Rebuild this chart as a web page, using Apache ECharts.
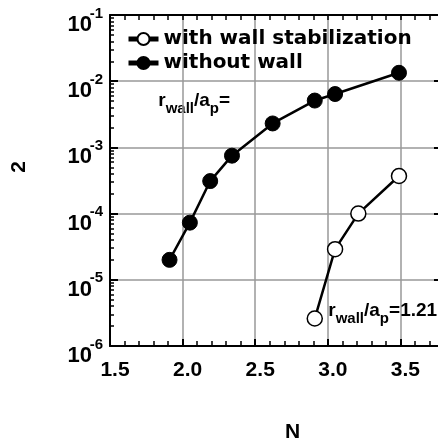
<!DOCTYPE html>
<html><head><meta charset="utf-8">
<script src="https://cdn.jsdelivr.net/npm/echarts@6/dist/echarts.min.js"></script>
<style>html,body{margin:0;padding:0;background:#fff}#c{width:438px;height:446px}</style>
</head><body><div id="c"></div>
<script>
// ---- data ----
const seriesNames = ['with wall stabilization', 'without wall'];
const nWith = [2.91, 3.05, 3.21, 3.49];
const gWith = [2.6e-6, 2.9e-5, 1.0e-4, 3.7e-4];
const nWithout = [1.91, 2.05, 2.19, 2.34, 2.62, 2.91, 3.05, 3.49];
const gWithout = [2.0e-5, 7.3e-5, 3.1e-4, 7.5e-4, 2.3e-3, 5.1e-3, 6.4e-3, 1.34e-2];
const xTickLabels = [1.5, 2.0, 2.5, 3.0, 3.5];
const yDecades = [1e-6, 1e-5, 1e-4, 1e-3, 1e-2, 1e-1];
const yMantissas = [2, 3, 4, 5, 6, 7, 8, 9];
const xName = 'N';
const yName = '2';
const annotLast = '1.21';

// ---- derived tick lists ----
const xMinor = [];
for (let i = 15; i <= 38; i++) xMinor.push(+(i / 10).toFixed(1));
const yMinor = [];
yDecades.slice(0, -1).forEach(d => yMantissas.forEach(m => yMinor.push(+(d * m).toPrecision(3))));

const FONT = '"Liberation Sans", Arial, sans-serif';
const richSub = {
  m: {fontFamily: FONT, fontWeight: 'bold', fontSize: 19, color: '#000', lineHeight: 22, verticalAlign: 'top'},
  s: {fontFamily: FONT, fontWeight: 'bold', fontSize: 15, color: '#000', lineHeight: 15, verticalAlign: 'bottom'},
  h: {lineHeight: 25, fontSize: 1}
};
function ratioText(suffix) {
  return '{h| }{m|r}{s|wall}{m|/a}{s|p}{m|=' + (suffix || '') + '}';
}

const chart = echarts.init(document.getElementById('c'), null, {renderer: 'canvas'});
const lineX = {type: 'value', min: 1.5, max: 3.8, gridIndex: 0};
const logY = {type: 'log', logBase: 10, min: 1e-6, max: 1e-1, gridIndex: 0};

chart.setOption({
  animation: false,
  backgroundColor: '#fff',
  grid: {left: 110, top: 15, width: 334, height: 331, containLabel: false, outerBoundsMode: 'none'},
  legend: {
    data: seriesNames,
    orient: 'vertical',
    left: 126, top: 29, padding: 0,
    itemWidth: 30, itemHeight: 15, itemGap: 4,
    lineStyle: {width: 5},
    textStyle: {fontFamily: '"DejaVu Sans", sans-serif', fontWeight: 'bold', fontSize: 20, color: '#000', lineHeight: 20}
  },
  xAxis: [
    Object.assign({}, lineX, {
      position: 'bottom', interval: 0.5,
      name: xName, nameLocation: 'middle', nameGap: 76,
      nameTextStyle: {fontFamily: FONT, fontWeight: 'bold', fontSize: 21, color: '#000', padding: [0, 0, 0, 31]},
      axisLine: {onZero: false, lineStyle: {color: '#000', width: 2}},
      axisTick: {inside: true, length: 7, lineStyle: {color: '#000', width: 2}},
      axisLabel: {customValues: xTickLabels, margin: 14, padding: [0, 0, 0, 10],
        fontFamily: FONT, fontWeight: 'bold', fontSize: 21, color: '#000',
        formatter: v => v.toFixed(1)},
      splitLine: {show: true, lineStyle: {color: '#999', width: 1.5}}
    }),
    Object.assign({}, lineX, {
      position: 'bottom',
      axisLine: {show: false, onZero: false},
      axisTick: {inside: true, length: 5, customValues: xMinor, lineStyle: {color: '#000', width: 1.5}},
      axisLabel: {show: false}, splitLine: {show: false}
    }),
    Object.assign({}, lineX, {
      position: 'top',
      axisLine: {onZero: false, lineStyle: {color: '#000', width: 2}},
      axisTick: {inside: true, length: 5, customValues: xMinor, lineStyle: {color: '#000', width: 1.5}},
      axisLabel: {show: false}, splitLine: {show: false}
    })
  ],
  yAxis: [
    Object.assign({}, logY, {
      position: 'left', splitNumber: 5,
      name: yName, nameLocation: 'middle', nameRotate: 90, nameGap: 80,
      nameTextStyle: {fontFamily: FONT, fontWeight: 'bold', fontSize: 21, color: '#000', padding: [0, 0, 0, 27]},
      axisLine: {onZero: false, lineStyle: {color: '#000', width: 2}},
      axisTick: {inside: true, length: 8, lineStyle: {color: '#000', width: 2}},
      axisLabel: {
        margin: 7, padding: [19, 0, 0, 0], align: 'right',
        formatter: v => '{s|' + Math.round(Math.log10(v)) + '}\n{b|10}',
        rich: {
          b: {fontFamily: FONT, fontWeight: 'bold', fontSize: 22, color: '#000', lineHeight: 22, align: 'right', padding: [0, 11, 0, 0]},
          s: {fontFamily: FONT, fontWeight: 'bold', fontSize: 15, color: '#000', lineHeight: 1, align: 'right'}
        }
      },
      splitLine: {show: true, lineStyle: {color: '#999', width: 1.5}}
    }),
    Object.assign({}, logY, {
      position: 'left',
      axisLine: {show: false, onZero: false},
      axisTick: {inside: true, length: 4, customValues: yMinor, lineStyle: {color: '#000', width: 1.5}},
      axisLabel: {show: false}, splitLine: {show: false}
    }),
    Object.assign({}, logY, {
      position: 'right',
      axisLine: {onZero: false, lineStyle: {color: '#000', width: 2}},
      axisTick: {inside: true, length: 10, customValues: yDecades, lineStyle: {color: '#000', width: 2}},
      axisLabel: {show: false}, splitLine: {show: false}
    })
  ],
  graphic: [{
    type: 'text', left: 158, top: 91,
    style: {text: ratioText(''), rich: richSub}
  }],
  series: [
    {
      name: seriesNames[0], type: 'line', xAxisIndex: 0, yAxisIndex: 0,
      data: nWith.map((n, i) => i === 0
        ? {value: [n, gWith[i]], label: {show: true, position: 'right', distance: 5, offset: [0, -5],
            formatter: ratioText(annotLast), rich: richSub}}
        : [n, gWith[i]]),
      symbol: 'circle', symbolSize: 15,
      lineStyle: {color: '#000', width: 2.5},
      itemStyle: {color: '#fff', borderColor: '#000', borderWidth: 1.5},
      z: 5
    },
    {
      name: seriesNames[1], type: 'line', xAxisIndex: 0, yAxisIndex: 0,
      data: nWithout.map((n, i) => [n, gWithout[i]]),
      symbol: 'circle', symbolSize: 15,
      lineStyle: {color: '#000', width: 2.5},
      itemStyle: {color: '#000', borderColor: '#000', borderWidth: 1},
      z: 5
    }
  ]
});
</script></body></html>
